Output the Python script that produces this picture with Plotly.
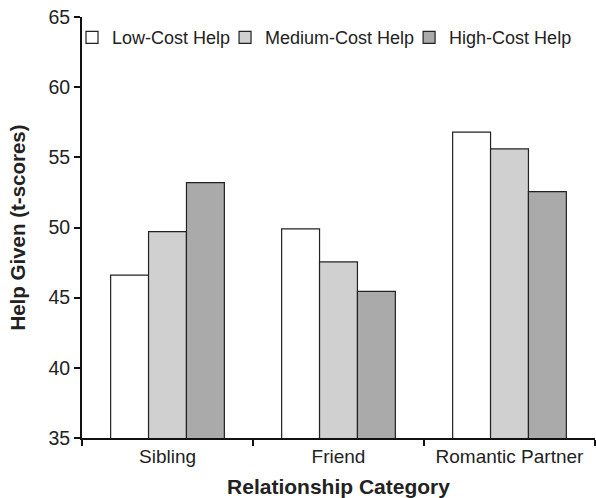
import plotly.graph_objects as go

categories = ["Sibling", "Friend", "Romantic Partner"]
series_names = ["Low-Cost Help", "Medium-Cost Help", "High-Cost Help"]
low_cost = [46.6, 49.9, 56.8]
medium_cost = [49.7, 47.55, 55.6]
high_cost = [53.2, 45.45, 52.55]
y_ticks = [35, 40, 45, 50, 55, 60, 65]

values = [low_cost, medium_cost, high_cost]
colors = ["#ffffff", "#d0d0d0", "#a9aaa9"]

FONT = "Liberation Sans, Arial, Helvetica, sans-serif"

fig = go.Figure()
for name, vals, col in zip(series_names, values, colors):
    fig.add_trace(go.Bar(
        x=categories, y=vals, name=name,
        marker=dict(color=col, line=dict(color="#222222", width=1.2)),
    ))

fig.update_layout(
    width=596, height=498,
    margin=dict(l=82, r=1, t=17, b=60),
    paper_bgcolor="white", plot_bgcolor="white",
    barmode="group", bargap=0.335, bargroupgap=0,
    font=dict(family=FONT, size=19, color="#222222"),
    showlegend=True,
    legend=dict(
        orientation="h", x=0, y=0.995, xanchor="left", yanchor="top",
        indentation=-10,
        font=dict(family=FONT, size=18, color="#222222"),
        bgcolor="rgba(0,0,0,0)", itemwidth=30, tracegroupgap=0,
    ),
    xaxis=dict(
        showline=True, linecolor="#111111", linewidth=2,
        ticks="outside", ticklen=6, tickwidth=2, tickcolor="#111111",
        tickson="boundaries", showgrid=False, automargin=False,
        title=dict(text="<b>Relationship Category</b>", font=dict(size=21), standoff=15),
        tickfont=dict(size=19),
    ),
    yaxis=dict(
        range=[35, 65], tickvals=y_ticks,
        showline=True, linecolor="#111111", linewidth=2,
        ticks="outside", ticklen=6, tickwidth=2, tickcolor="#111111",
        showgrid=False, zeroline=False, automargin=False,
        title=dict(text="<b>Help Given (t-scores)</b>", font=dict(size=20.5), standoff=17),
        tickfont=dict(size=19.5),
    ),
)

fig.write_html(
    "out.html",
    config={"displayModeBar": False},
    post_script="document.body.style.margin='0';document.body.style.overflow='hidden';",
)
